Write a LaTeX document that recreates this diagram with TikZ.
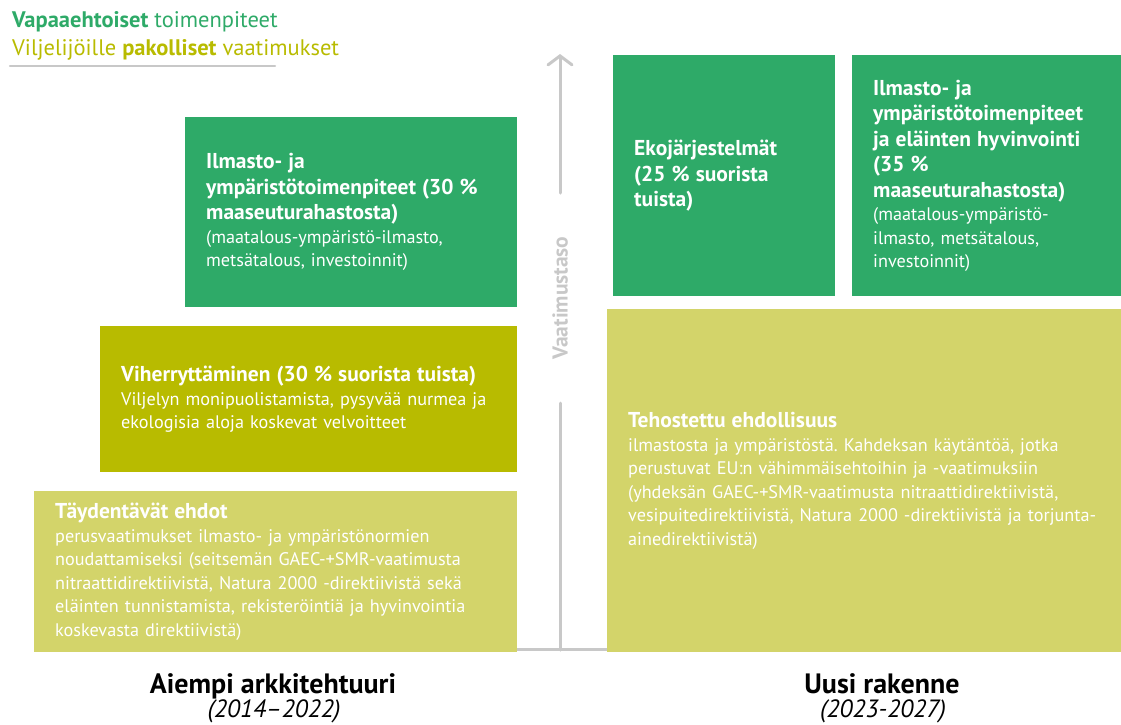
\documentclass[tikz,border=0pt]{standalone}
\usepackage{fontspec}
\setmainfont{PT Sans}
\usetikzlibrary{arrows.meta}
\definecolor{vihrea}{HTML}{2EAA68}
\definecolor{oliivi}{HTML}{B8BB00}
\definecolor{vaalea}{HTML}{D3D46A}
\definecolor{harmaa}{HTML}{C8C8C8}
\newcommand\otsikko[1]{{\fontsize{21.5}{25.5}\selectfont\bfseries #1\par}}
\frenchspacing
\begin{document}
\begin{tikzpicture}[x=1pt, y=-1pt, line join=round, line cap=round,
  laatikko/.style={anchor=north west, inner xsep=21pt, inner ysep=0pt, text=white, align=left,
    font=\fontsize{18.2}{23.5}\selectfont},
  selite/.style={anchor=base west, inner sep=0pt, font=\fontsize{22.5}{26}\selectfont},
  alaotsikko/.style={anchor=base, inner sep=0pt, font=\fontsize{28}{32}\selectfont\bfseries},
  vuodet/.style={anchor=base, inner sep=0pt, font=\fontsize{25}{29}\selectfont\itshape}]
\useasboundingbox (0,0) rectangle (1121,724);
% selite
\node[selite, text=vihrea] (vapaa) at (12,27) {\textbf{Vapaaehtoiset} toimenpiteet};
\node[selite, text=oliivi] (pakko) at (12,55) {Viljelijöille \textbf{pakolliset} vaatimukset};
\draw[harmaa, line width=2.5] (10,66)--(275,66);
% vaatimustason akseli
\coordinate (akselipohja) at (560,650);
\coordinate (akselikarki) at (560,54);
\coordinate (alapaa) at (560,403);
\coordinate (ylapaa) at (560,193);
\node[rotate=90, text=harmaa, font=\fontsize{21.5}{25}\selectfont\bfseries] (vaatimustaso) at (560,298) {Vaatimustaso};
\draw[harmaa, line width=3] (517,649)--(607,649);
\draw[harmaa, line width=3] (akselipohja)--(alapaa);
\draw[harmaa, line width=3, -{Straight Barb[length=9pt, width=24pt, line cap=round]}] (ylapaa)--(akselikarki);
% aiempi arkkitehtuuri
\node[laatikko, fill=vihrea, minimum width=332, minimum height=190, text width=290] (ilmasto) at (185,117)
  {\otsikko{Ilmasto- ja\\ ympäristötoimenpiteet (30~\%\\ maaseuturahastosta)}
   (maatalous-ympäristö-ilmasto,\\ metsätalous, investoinnit)};
\node[laatikko, fill=oliivi, minimum width=417, minimum height=146, text width=375] (viherrys) at (100,326)
  {\otsikko{Viherryttäminen (30~\% suorista tuista)}
   Viljelyn monipuolistamista, pysyvää nurmea ja\\ ekologisia aloja koskevat velvoitteet};
\node[laatikko, fill=vaalea, minimum width=483, minimum height=161, text width=441] (taydentavat) at (34,491)
  {\otsikko{Täydentävät ehdot}
   perusvaatimukset ilmasto- ja ympäristönormien\\ noudattamiseksi (seitsemän GAEC-+SMR-vaatimusta\\
   nitraattidirektiivistä, Natura 2000 -direktiivistä sekä\\ eläinten tunnistamista, rekisteröintiä ja hyvinvointia\\
   koskevasta direktiivistä)};
% uusi rakenne
\node[laatikko, fill=vihrea, minimum width=222, minimum height=241, text width=180] (eko) at (613,55)
  {\otsikko{Ekojärjestelmät\\ (25~\% suorista\\ tuista)}};
\node[laatikko, fill=vihrea, minimum width=269, minimum height=241, text width=227] (ilmasto2) at (852,55)
  {\otsikko{Ilmasto- ja\\ ympäristötoimenpiteet\\ ja eläinten hyvinvointi\\ (35~\%\\ maaseuturahastosta)}
   (maatalous-ympäristö-\\ ilmasto, metsätalous,\\ investoinnit)};
\node[laatikko, fill=vaalea, minimum width=514, minimum height=343, text width=472] (tehostettu) at (607,309)
  {\otsikko{Tehostettu ehdollisuus}
   ilmastosta ja ympäristöstä. Kahdeksan käytäntöä, jotka\\ perustuvat EU:n vähimmäisehtoihin ja -vaatimuksiin\\
   (yhdeksän GAEC-+SMR-vaatimusta nitraattidirektiivistä,\\
   \mbox{vesipuitedirektiivistä, Natura 2000 -direktiivistä ja torjunta-}\\
   ainedirektiivistä)};
% alaotsikot
\node[alaotsikko] (aiempi) at (273,693) {Aiempi arkkitehtuuri};
\node[vuodet] (aiempivuodet) at (274,717) {(2014–2022)};
\node[alaotsikko] (uusi) at (882,693) {Uusi rakenne};
\node[vuodet] (uusivuodet) at (883,717) {(2023-2027)};
\end{tikzpicture}
\end{document}
